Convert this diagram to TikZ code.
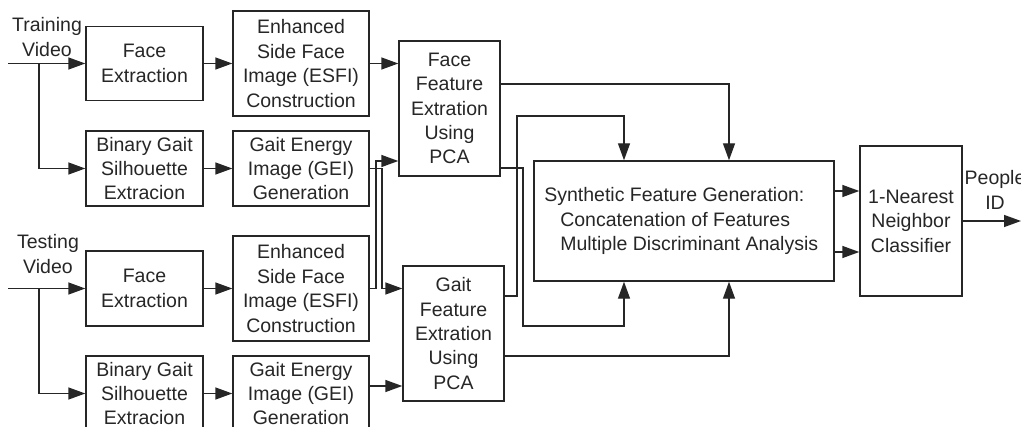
\documentclass[tikz,border=0pt]{standalone}
\usepackage{fontspec}
\setmainfont{Liberation Sans}
\usetikzlibrary{arrows.meta}
\definecolor{trait}{HTML}{262626}

\begin{document}
\begin{tikzpicture}[x=0.5pt,y=-0.5pt]
  \tikzstyle{lien}=[->,>={Triangle[length=8.5pt,width=6pt]},line width=0.7pt,draw=trait]
\tikzset{bloc/.style={draw=trait,line width=0.7pt,align=center,inner sep=1pt,
minimum width=#1}, bloc/.default={58.5pt},
every node/.style={text=trait,font=\fontsize{9.75}{12.2}\selectfont}}
\useasboundingbox (0,0) rectangle (1021,427);

\node[align=center] (lab1) at (47,37){Training\\Video};
\node[align=center] (lab2) at (48,254){Testing\\Video};
\node[align=center] (lab3) at (995,190){People\\ID};

\node[bloc,minimum height=37pt] (fe1) at (144.5,63.5){Face\\Extraction};
\node[bloc,minimum height=37.5pt] (bg1) at (144.5,168.5){Binary Gait\\Silhouette\\Extracion};
\node[bloc=68pt,minimum height=52.5pt] (esfi1) at (301,63.5){Enhanced\\Side Face\\Image (ESFI)\\Construction};
\node[bloc=68pt,minimum height=37.5pt] (gei1) at (301,168.5){Gait Energy\\Image (GEI)\\Generation};
\node[bloc=50.5pt,minimum height=67.5pt] (ffe) at (449.5,108.5){Face\\Feature\\Extration\\Using\\PCA};

\node[bloc,minimum height=37.5pt] (fe2) at (144.5,288.5){Face\\Extraction};
\node[bloc,minimum height=37.5pt] (bg2) at (144.5,393.5){Binary Gait\\Silhouette\\Extracion};
\node[bloc=68pt,minimum height=52.5pt] (esfi2) at (301,288.5){Enhanced\\Side Face\\Image (ESFI)\\Construction};
\node[bloc=68pt,minimum height=37.5pt] (gei2) at (301,393.5){Gait Energy\\Image (GEI)\\Generation};
\node[bloc=50.5pt,minimum height=67.5pt] (gfe) at (453.5,333.5){Gait\\Feature\\Extration\\Using\\PCA};

\node[bloc=150pt,minimum height=60pt,align=left] (syn) at (684,221){Synthetic Feature Generation:\\
\hspace*{8pt}Concatenation of Features\\\hspace*{8pt}Multiple Discriminant Analysis\hspace*{2.75pt}};
\node[bloc=51pt,minimum height=75pt] (cls) at (911,221){1-Nearest\\Neighbor\\Classifier};

\coordinate (src1) at (8,63.5);
\coordinate (div1) at (39,63.5);
\coordinate (src2) at (8,288.5);
\coordinate (div2) at (39,288.5);
\coordinate (sortie) at (1021,221);

\draw[lien] (src1) -- (fe1);
\draw[lien] (div1) |- (bg1);
\draw[lien] (fe1) -- (esfi1);
\draw[lien] (bg1) -- (gei1);
\draw[lien] (esfi1) -- (esfi1 -| ffe.west);

\draw[lien] (src2) -- (fe2);
\draw[lien] (div2) |- (bg2);
\draw[lien] (fe2) -- (esfi2);
\draw[lien] (bg2) -- (gei2);
\draw[lien] (gei2.east |- 0,386) -- (gfe.west |- 0,386);

\draw[lien] (gei1.east) -| (382,288.5) -- (esfi2 -| gfe.west);
\draw[lien] (esfi2.east) -| (376,161) -- (ffe.west |- 0,161);

\draw[lien] (ffe.east |- 0,84) -| (syn.north -| 729,0);
\draw[lien] (ffe.east |- 0,168) -| (523,326) -| (syn.south -| 624,0);
\draw[lien] (gfe.east |- 0,296) -| (517,116) -| (syn.north -| 624,0);
\draw[lien] (gfe.east |- 0,356) -| (syn.south -| 729,0);

\draw[lien] (syn.east |- 0,191) -- (cls.west |- 0,191);
\draw[lien] (syn.east |- 0,252) -- (cls.west |- 0,252);
\draw[lien] (cls) -- (sortie);

  \end{tikzpicture}
\end{document}
